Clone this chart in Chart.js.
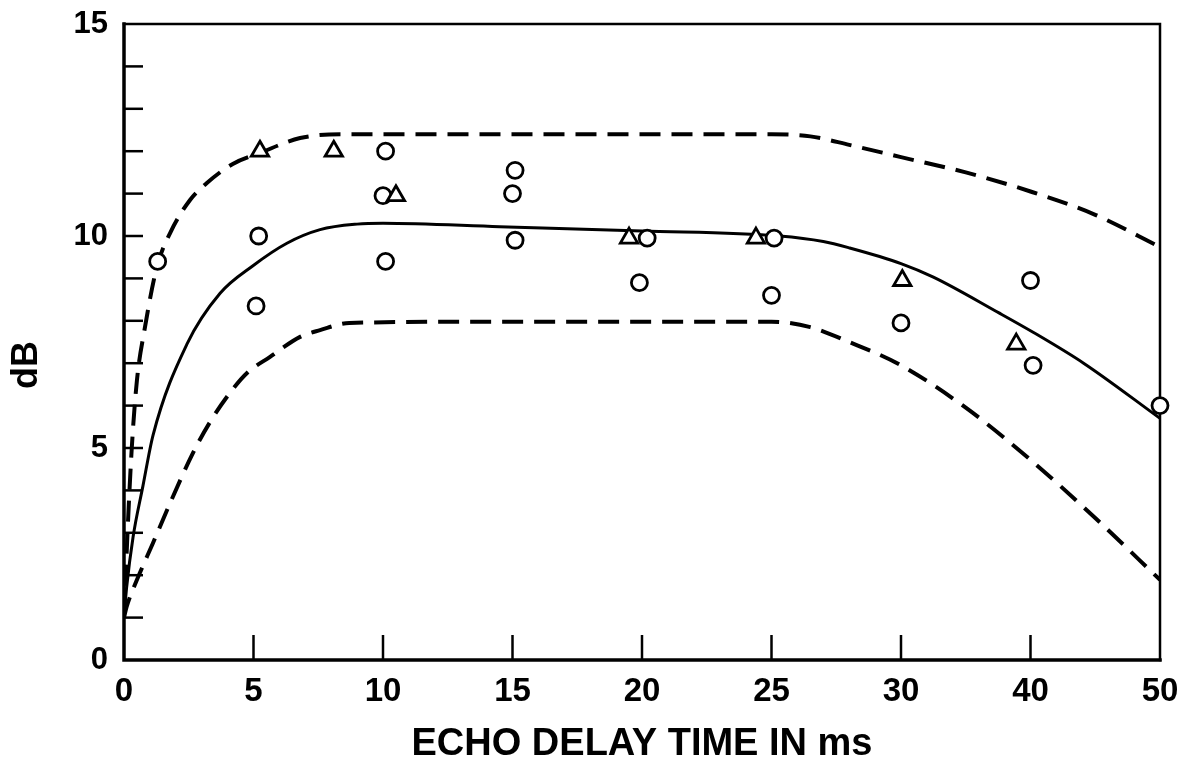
<!DOCTYPE html>
<html>
<head>
<meta charset="utf-8">
<script src="https://cdn.jsdelivr.net/npm/chart.js@4/dist/chart.umd.min.js"></script>
<style>
  html, body { margin: 0; padding: 0; background: #fff; }
  #wrap { width: 1190px; height: 764px; }
</style>
</head>
<body>
<div id="wrap"><canvas id="grafico" width="1190" height="764"></canvas></div>
<script>
// eixo x: 0..30 de 5 em 5, depois 40 e 50 (escala quebrada)
const xTickLabels = [0, 5, 10, 15, 20, 25, 30, 40, 50];
const yMax = 15;

// pontos medidos (círculos)
const circleDelay = [1.3, 5.2, 5.1, 10.1, 10.0, 10.1, 15.1, 15.0, 15.1, 20.2, 19.9, 25.1, 25.0, 30.0, 40.0, 40.2, 50.0];
const circleDb    = [9.4, 10.0, 8.35, 12.0, 10.95, 9.4, 11.55, 11.0, 9.9, 9.95, 8.9, 9.95, 8.6, 7.95, 8.95, 6.95, 6.0];

// pontos medidos (triângulos)
const triDelay = [5.25, 8.1, 10.5, 19.5, 24.4, 30.1, 38.9];
const triDb    = [12.0, 12.0, 10.95, 9.95, 9.95, 8.95, 7.45];

// curva média (linha cheia)
const meanDelay = [0, 0.1, 0.35, 0.73, 1.12, 2.43, 3.71, 4.98, 6.29, 7.57, 9, 10, 14.5, 20, 25.3, 27, 28, 30, 32.5, 37.6, 40.2, 44.1, 50];
const meanDb    = [1.0, 1.7, 2.9, 4.1, 5.3, 7.45, 8.65, 9.3, 9.83, 10.15, 10.28, 10.3, 10.22, 10.12, 10.0, 9.87, 9.72, 9.35, 9.03, 8.18, 7.73, 7.0, 5.7];

// limite superior (tracejada)
const upperDelay = [0, 0.15, 0.3, 0.5, 0.81, 1.27, 1.78, 2.55, 3.2, 4.2, 5.25, 6.8, 8.5, 15, 25, 26.5, 28, 30, 35, 40, 45, 50];
const upperDb    = [1.0, 3.2, 5.0, 6.6, 7.85, 9.27, 10.07, 10.85, 11.25, 11.7, 11.96, 12.31, 12.4, 12.4, 12.4, 12.35, 12.15, 11.86, 11.5, 11.05, 10.5, 9.74];

// limite inferior (tracejada)
const lowerDelay = [0, 0.1, 0.5, 1.12, 1.78, 2.66, 3.33, 4.09, 4.75, 5.64, 6.8, 7.57, 8.7, 15, 25, 26.5, 28, 30, 35, 40, 45, 50];
const lowerDb    = [1.0, 1.25, 1.89, 2.76, 3.7, 4.88, 5.62, 6.3, 6.77, 7.15, 7.62, 7.78, 7.95, 7.98, 7.98, 7.85, 7.5, 6.95, 5.95, 4.72, 3.35, 1.89];

// converte ms para a posição no eixo quebrado
function posEixo(ms) {
  if (ms <= 30) return ms / 5;
  return 6 + (ms - 30) / 10;
}

function pontos(xs, ys) {
  return xs.map((v, i) => ({ x: posEixo(v), y: ys[i] }));
}

const fonte = '"Liberation Sans", Arial, sans-serif';

const moldura = {
  id: 'moldura',
  beforeDatasetsDraw(chart) {
    const { ctx, chartArea } = chart;
    const { left, right, top, bottom } = chartArea;
    const sx = chart.scales.x;
    const sy = chart.scales.y;
    ctx.save();
    ctx.strokeStyle = '#000';
    ctx.lineCap = 'square';

    // bordas
    ctx.lineWidth = 3.5;
    ctx.beginPath();
    ctx.moveTo(left, top);
    ctx.lineTo(left, bottom);
    ctx.lineTo(right, bottom);
    ctx.stroke();
    ctx.lineWidth = 2.5;
    ctx.beginPath();
    ctx.moveTo(left, top);
    ctx.lineTo(right, top);
    ctx.lineTo(right, bottom);
    ctx.stroke();

    // marcas para dentro
    ctx.lineWidth = 2.5;
    ctx.lineCap = 'butt';
    sx.ticks.forEach(t => {
      if (t.value <= sx.min || t.value >= sx.max) return;
      const px = sx.getPixelForValue(t.value);
      ctx.beginPath();
      ctx.moveTo(px, bottom);
      ctx.lineTo(px, bottom - 25);
      ctx.stroke();
    });
    sy.ticks.forEach(t => {
      if (t.value <= sy.min || t.value >= sy.max) return;
      const py = sy.getPixelForValue(t.value);
      ctx.beginPath();
      ctx.moveTo(left, py);
      ctx.lineTo(left + 19, py);
      ctx.stroke();
    });
    ctx.restore();
  },
  afterDraw(chart) {
    const { ctx, chartArea } = chart;
    ctx.save();
    ctx.fillStyle = '#000';
    ctx.font = 'bold 36px ' + fonte;
    ctx.textAlign = 'center';
    ctx.textBaseline = 'middle';
    ctx.translate(27, (chartArea.top + chartArea.bottom) / 2 + 23);
    ctx.rotate(-Math.PI / 2);
    ctx.fillText('dB', 0, 0);
    ctx.restore();
  }
};

document.addEventListener("DOMContentLoaded", function () {
  const ctx = document.getElementById('grafico').getContext('2d');
  new Chart(ctx, {
    type: 'scatter',
    data: {
      datasets: [
        {
          label: 'triângulos',
          data: pontos(triDelay, triDb),
          pointStyle: 'triangle',
          pointRadius: 10,
          borderWidth: 2.8,
          borderColor: '#000',
          backgroundColor: '#fff',
          clip: false
        },
        {
          label: 'círculos',
          data: pontos(circleDelay, circleDb),
          pointStyle: 'circle',
          pointRadius: 8,
          borderWidth: 2.8,
          borderColor: '#000',
          backgroundColor: '#fff',
          clip: false
        },
        {
          label: 'média',
          data: pontos(meanDelay, meanDb),
          showLine: true,
          pointRadius: 0,
          borderColor: '#000',
          borderWidth: 3,
          cubicInterpolationMode: 'monotone'
        },
        {
          label: 'superior',
          data: pontos(upperDelay, upperDb),
          showLine: true,
          pointRadius: 0,
          borderColor: '#000',
          borderWidth: 4,
          borderDash: [21, 11],
          cubicInterpolationMode: 'monotone'
        },
        {
          label: 'inferior',
          data: pontos(lowerDelay, lowerDb),
          showLine: true,
          pointRadius: 0,
          borderColor: '#000',
          borderWidth: 4,
          borderDash: [21, 11],
          cubicInterpolationMode: 'monotone'
        }
      ]
    },
    options: {
      responsive: false,
      animation: false,
      layout: { padding: { top: 24, right: 30, left: 0, bottom: 0 } },
      plugins: {
        legend: { display: false },
        tooltip: { enabled: false }
      },
      scales: {
        x: {
          type: 'linear',
          min: 0,
          max: xTickLabels.length - 1,
          afterFit: s => {
            s.height = 104;
            s.paddingLeft = 0;
            s.paddingRight = 0;
          },
          grid: { display: false, drawTicks: false },
          border: { display: false },
          ticks: {
            stepSize: 1,
            padding: 12,
            color: '#000',
            font: { family: fonte, size: 33, weight: 'bold' },
            callback: v => xTickLabels[v]
          },
          title: {
            display: true,
            text: 'ECHO DELAY TIME IN ms',
            color: '#000',
            font: { family: fonte, size: 38, weight: 'bold', lineHeight: 1 },
            padding: { top: 0, bottom: 0 }
          }
        },
        y: {
          min: 0,
          max: yMax,
          afterFit: s => {
            s.width = 124;
            s.paddingTop = 0;
            s.paddingBottom = 0;
          },
          grid: { display: false, drawTicks: false },
          border: { display: false },
          ticks: {
            stepSize: 1,
            padding: 16,
            autoSkip: false,
            color: '#000',
            font: { family: fonte, size: 31, weight: 'bold' },
            callback: v => (v % 5 === 0 ? v : '')
          }
        }
      }
    },
    plugins: [moldura]
  });
});
</script>
</body>
</html>
